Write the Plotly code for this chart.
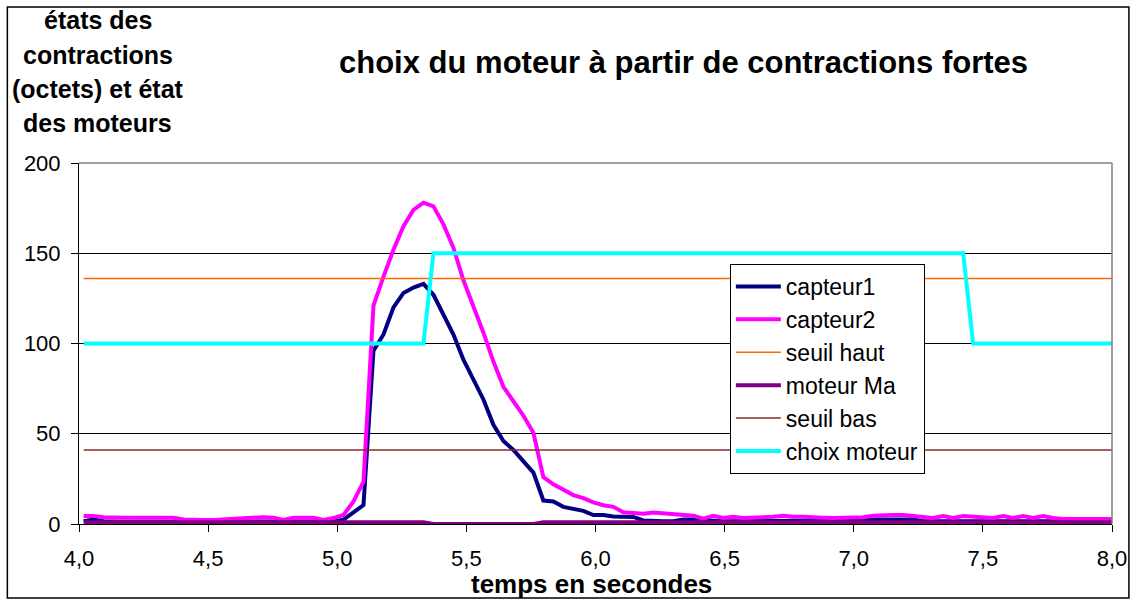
import numpy as np
import plotly.graph_objects as go

# sampling period (s) and first sample time
t_start = 4.018
t_step = 0.0387

capteur1 = [1.5, 2.5, 1.5, 1.2, 1.2, 1.2, 1.2, 1.2, 1.2, 1.2,
            1.2, 1.2, 1.2, 1.2, 1.2, 1.2, 1.2, 1.2, 1.2, 1.2,
            1.2, 1.2, 1.2, 1.2, 1.2, 1.5, 2.4, 6.5, 10.5, 96,
            105, 120, 128, 131, 133, 127, 116, 105, 91, 80,
            69, 55, 46, 41, 35, 28.5, 13, 12.5, 9.5, 8.5,
            7.3, 5, 5, 4.2, 3.9, 3.9, 2, 1.5, 1.5, 1.5,
            2.5, 2.5, 2, 1.5, 1.5, 1.5, 1.5, 1.5, 1.5, 1.5,
            1.5, 1.5, 1.5, 1.5, 1.5, 1.5, 1.5, 1.5, 2, 2.5,
            2.5, 2.5, 2.5, 2.5, 1.5, 1.5, 1.5, 1.5, 1.5, 1.5,
            1.5, 1.5, 1.5, 1.5, 1.5, 1.5, 1.5, 1.5, 1.5, 1.5,
            1.5, 1.5, 1.5, 1.5]

capteur2 = [4.5, 4.5, 3.8, 3.5, 3.5, 3.5, 3.5, 3.5, 3.5, 3.5,
            2.5, 2.2, 2.2, 2.2, 2.5, 3, 3.5, 3.8, 3.8, 3.5,
            2.2, 3.5, 3.5, 3.5, 2.2, 3.3, 5, 12.5, 23.5, 121,
            137, 152, 165, 174, 178, 176, 166, 153, 135, 121,
            106, 90, 76, 68, 60, 50.5, 26, 22, 19, 16,
            14.3, 12, 10.4, 9.5, 6.5, 6.3, 5.7, 6.4, 6, 5.5,
            5.5, 4.6, 3, 4.6, 3.3, 4, 3.3, 3.5, 3.3, 4,
            4.6, 4, 4, 4, 3.5, 3.3, 3.3, 3.3, 3.8, 4.6,
            5, 5, 5, 4.6, 3.8, 3.3, 4.4, 3.3, 4.4, 4,
            3.5, 3.3, 4.4, 3.3, 4.4, 3.3, 4.4, 3.3, 2.8, 2.8,
            2.8, 2.8, 2.8, 2.8]

moteur_ma = [1] * 35 + [0] * 11 + [1] * 58

choix_moteur = [100] * 35 + [150] * 54 + [100] * 15

seuil_haut_val = 136
seuil_bas_val = 41

x_tickvals = [4.0, 4.5, 5.0, 5.5, 6.0, 6.5, 7.0, 7.5, 8.0]
x_ticktext = ["4,0", "4,5", "5,0", "5,5", "6,0", "6,5", "7,0", "7,5", "8,0"]
y_tickvals = [0, 50, 100, 150, 200]

n = len(capteur1)
temps = np.round(t_start + t_step * np.arange(n), 4)
seuil_haut = [seuil_haut_val] * n
seuil_bas = [seuil_bas_val] * n

FONT = "Arial, Liberation Sans, sans-serif"

series = [
    ("capteur1", capteur1, "#000080", 4),
    ("capteur2", capteur2, "#FF00FF", 4),
    ("seuil haut", seuil_haut, "#FF6600", 1.3),
    ("moteur Ma", moteur_ma, "#800080", 4),
    ("seuil bas", seuil_bas, "#8B2A2A", 1.5),
    ("choix moteur", choix_moteur, "#00FFFF", 4),
]

fig = go.Figure()
for name, vals, col, w in series:
    fig.add_trace(go.Scatter(
        x=temps, y=vals, mode="lines", name=name,
        line=dict(color=col, width=w),
        legendgroup=name,
    ))

L, R, T, B = 79, 22, 163, 79
W, H = 1139, 603
pw, ph = W - L - R, H - T - B

def px(xp):
    return (xp - L) / pw

def py(yp):
    return (H - B - yp) / ph

fig.update_layout(
    width=W, height=H,
    margin=dict(l=L, r=R, t=T, b=B),
    paper_bgcolor="white", plot_bgcolor="white",
    font=dict(family=FONT, color="black", size=22),
    showlegend=True,
    legend=dict(
        x=px(733), y=py(264), xanchor="left", yanchor="top",
        bordercolor="black", borderwidth=1, bgcolor="white",
        font=dict(family=FONT, size=23, color="black"),
        tracegroupgap=0, itemwidth=45,
    ),
    xaxis=dict(
        range=[4, 8], tickvals=x_tickvals, ticktext=x_ticktext,
        showgrid=False, zeroline=False,
        showline=True, linecolor="black", linewidth=1,
        ticks="outside", ticklen=7, tickcolor="black",
        ticklabelstandoff=8,
        tickfont=dict(family=FONT, size=22, color="black"),
    ),
    yaxis=dict(
        range=[0, 200], tickvals=y_tickvals,
        showgrid=True, gridcolor="black", gridwidth=1,
        zeroline=False,
        showline=True, linecolor="black", linewidth=1,
        ticks="outside", ticklen=7, tickcolor="black",
        ticklabelstandoff=6,
        tickfont=dict(family=FONT, size=22, color="black"),
    ),
)

# plot area border (top and right, grey)
fig.add_shape(type="line", xref="paper", yref="paper", x0=0, x1=1, y0=1, y1=1,
              line=dict(color="#808080", width=1.5))
fig.add_shape(type="line", xref="paper", yref="paper", x0=1, x1=1, y0=0, y1=1,
              line=dict(color="#808080", width=1.5))
# chart outer border
fig.add_shape(type="rect", xref="paper", yref="paper",
              x0=px(7), x1=px(1134), y0=py(598), y1=py(7),
              line=dict(color="black", width=1.5))

fig.add_annotation(text="<b>choix du moteur à partir de contractions fortes</b>",
                   xref="paper", yref="paper", x=px(686), y=py(62),
                   xanchor="center", yanchor="middle", showarrow=False,
                   font=dict(family=FONT, size=31, color="black"))
fig.add_annotation(text="<b>temps en secondes</b>",
                   xref="paper", yref="paper", x=px(594), y=py(584),
                   xanchor="center", yanchor="middle", showarrow=False,
                   font=dict(family=FONT, size=26, color="black"))
ytitle_lines = ["états des", "contractions", "(octets) et état", "des moteurs"]
for line_txt, yc in zip(ytitle_lines, [20, 55, 89, 123]):
    fig.add_annotation(text="<b>" + line_txt + "</b>",
                       xref="paper", yref="paper", x=px(98), y=py(yc),
                       xanchor="center", yanchor="middle", showarrow=False,
                       font=dict(family=FONT, size=25, color="black"))

fig.write_html("out.html", config={"displayModeBar": False},
               post_script="document.body.style.margin='0';")
